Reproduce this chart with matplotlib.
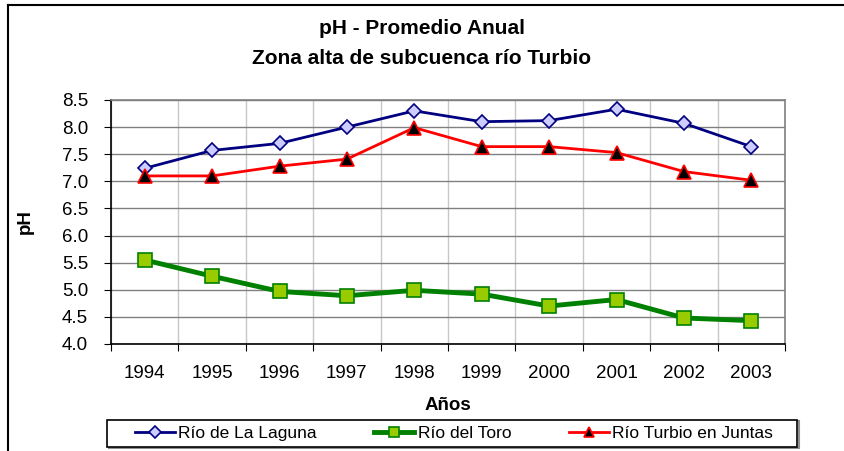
import matplotlib.pyplot as plt
from matplotlib.lines import Line2D
from matplotlib.patches import Rectangle

plt.rcParams["font.family"] = ["Liberation Sans", "DejaVu Sans"]

# data
years = ["1994", "1995", "1996", "1997", "1998", "1999", "2000", "2001", "2002", "2003"]
laguna = [7.24, 7.57, 7.70, 8.00, 8.30, 8.10, 8.12, 8.33, 8.07, 7.64]
toro = [5.55, 5.25, 4.97, 4.89, 4.99, 4.92, 4.70, 4.82, 4.48, 4.43]
turbio = [7.10, 7.10, 7.28, 7.41, 7.99, 7.64, 7.64, 7.53, 7.18, 7.02]

fig = plt.figure(figsize=(8.44, 4.51), dpi=100)
ax = fig.add_axes([111 / 844, 107 / 451, 674 / 844, 244 / 451])

x = [i + 0.5 for i in range(len(years))]

ax.plot(x, laguna, color="#000080", lw=2, marker="D", ms=7.5,
        mfc="#ccccff", mec="#000080", mew=1.2, label="Río de La Laguna", zorder=3)
ax.plot(x, toro, color="#008000", lw=3.5, marker="s", ms=9.5,
        mfc="#99cc00", mec="#008000", mew=1.2, label="Río del Toro", zorder=3)
ax.plot(x, turbio, color="#ff0000", lw=2, marker="^", ms=10.5,
        mfc="black", mec="#ff0000", mew=1.2, label="Río Turbio en Juntas", zorder=4)

ax.set_xlim(0, len(years))
ax.set_ylim(4.0, 8.5)
ax.set_yticks([4.0 + 0.5 * i for i in range(10)])
ax.set_yticklabels([f"{4.0 + 0.5 * i:.1f}" for i in range(10)], fontsize=13.5)

# category axis: ticks on boundaries, labels in the middle
ax.set_xticks(range(len(years) + 1))
ax.set_xticklabels([])
ax.set_xticks(x, minor=True)
ax.set_xticklabels(years, minor=True, fontsize=13.5)
ax.tick_params(axis="x", which="minor", length=0, pad=15)
ax.tick_params(axis="x", which="major", length=5, direction="out", color="black")
ax.tick_params(axis="y", length=5, direction="out", pad=11.5)

ax.grid(axis="y", color="#808080", lw=1)
ax.grid(axis="x", which="major", color="#c8c8c8", lw=1)
ax.set_axisbelow(True)

for s in ["left", "bottom"]:
    ax.spines[s].set_color("black")
    ax.spines[s].set_linewidth(1.2)
for s in ["top", "right"]:
    ax.spines[s].set_color("#808080")
    ax.spines[s].set_linewidth(1.2)

ax.set_xlabel("Años", fontsize=13.5, fontweight="bold", labelpad=11)
ax.set_ylabel("pH", fontsize=13.5, fontweight="bold", labelpad=20)

fig.text(0.5, 1 - 29 / 451, "pH - Promedio Anual", ha="center", va="center",
         fontsize=15, fontweight="bold")
fig.text(0.5, 1 - 58 / 451, "Zona alta de subcuenca río Turbio", ha="center",
         va="center", fontsize=15, fontweight="bold")

# legend box drawn separately, entries centred inside it
fig.add_artist(Rectangle((109 / 844, 3 / 451), 690 / 844, 27 / 451,
                         transform=fig.transFigure, facecolor="none",
                         edgecolor="#909090", lw=1.5))
fig.add_artist(Rectangle((107 / 844, 4 / 451), 690 / 844, 27 / 451,
                         transform=fig.transFigure, facecolor="white",
                         edgecolor="black", lw=1.2))
leg = fig.legend(loc="center", ncol=3, bbox_to_anchor=(454 / 844, 17.5 / 451),
                 fontsize=12.5, frameon=False, handlelength=2.3,
                 handletextpad=0.2, columnspacing=3.3, markerscale=0.75)

# outer frame of the chart object
fig.add_artist(Line2D([8 / 844, 8 / 844], [0, 1 - 5 / 451], color="black", lw=1.5))
fig.add_artist(Line2D([8 / 844, 1], [1 - 5 / 451, 1 - 5 / 451], color="black", lw=1.5))

fig.savefig("out.png", dpi=100)
